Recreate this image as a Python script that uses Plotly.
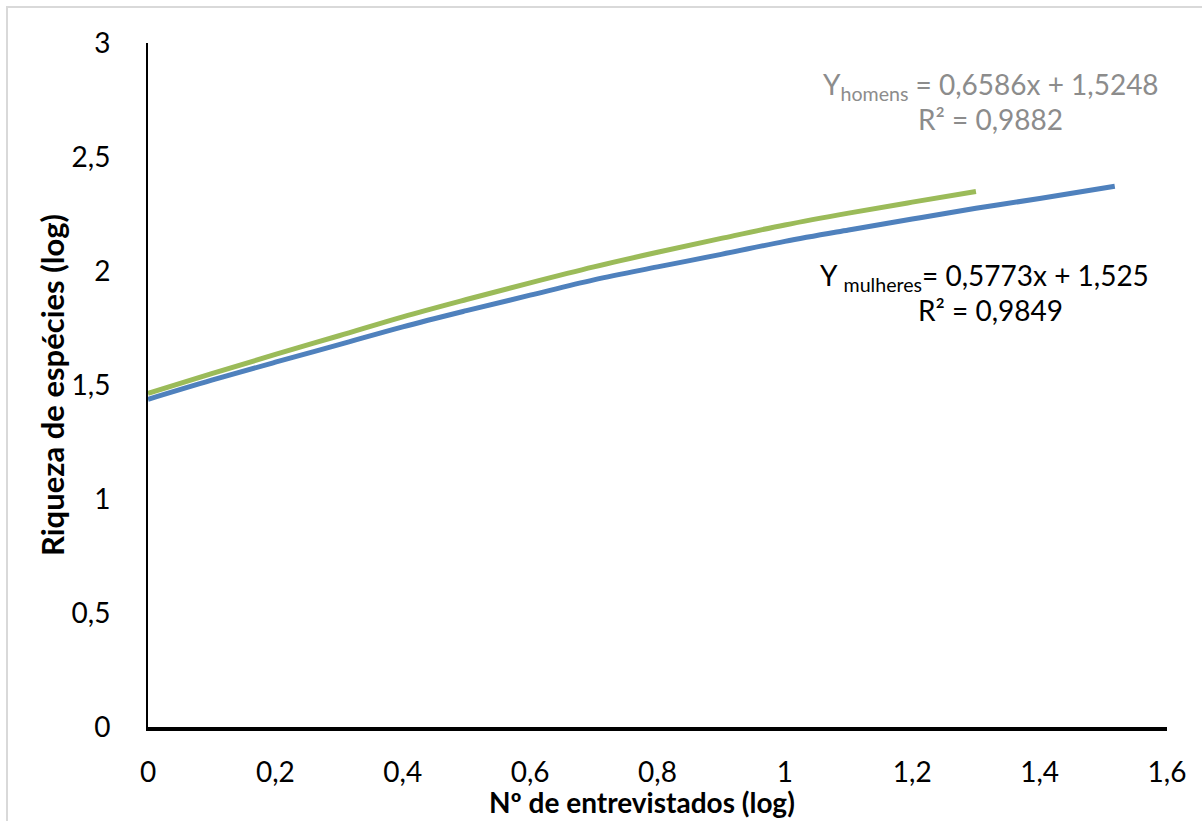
import plotly.graph_objects as go

# Data
x_homens = [0.0, 0.1, 0.2, 0.3, 0.4, 0.5, 0.6, 0.7, 0.8, 0.9, 1.0, 1.1, 1.2, 1.3]
y_homens = [1.463, 1.550, 1.634, 1.716, 1.799, 1.875, 1.948, 2.018, 2.082, 2.143, 2.202, 2.254, 2.302, 2.349]

x_mulheres = [0.0, 0.1, 0.2, 0.3, 0.4, 0.5, 0.6, 0.7, 0.8, 0.9, 1.0, 1.1, 1.2, 1.3, 1.4, 1.518]
y_mulheres = [1.437, 1.521, 1.600, 1.677, 1.755, 1.826, 1.894, 1.961, 2.018, 2.073, 2.130, 2.180, 2.228, 2.275, 2.318, 2.372]

x_ticks = [0, 0.2, 0.4, 0.6, 0.8, 1.0, 1.2, 1.4, 1.6]
x_tick_labels = ["0", "0,2", "0,4", "0,6", "0,8", "1", "1,2", "1,4", "1,6"]
y_ticks = [0, 0.5, 1.0, 1.5, 2.0, 2.5, 3.0]
y_tick_labels = ["0", "0,5", "1", "1,5", "2", "2,5", "3"]

FONT = "Lato, 'Open Sans', sans-serif"

W, H = 1202, 821
L, R, T, B = 148, 35, 43, 94
pw, ph = W - L - R, H - T - B

def px(xp):
    return (xp - L) / pw

def py(yp):
    return (H - B - yp) / ph

fig = go.Figure()
fig.add_trace(go.Scatter(x=x_mulheres, y=y_mulheres, mode="lines",
                         line=dict(color="#4F81BD", width=5, shape="spline"),
                         name="mulheres", showlegend=False))
fig.add_trace(go.Scatter(x=x_homens, y=y_homens, mode="lines",
                         line=dict(color="#9BBB59", width=5, shape="spline"),
                         name="homens", showlegend=False))

def ann(x, y, text, color, size=28, **kw):
    d = dict(xref="paper", yref="paper", x=px(x), y=py(y),
             xanchor="center", yanchor="middle", text=text,
             showarrow=False, font=dict(size=size, color=color, family=FONT))
    d.update(kw)
    return d

fig.update_layout(
    width=W, height=H,
    margin=dict(l=L, r=R, t=T, b=B),
    paper_bgcolor="white", plot_bgcolor="white",
    font=dict(family=FONT, size=28, color="black"),
    xaxis=dict(range=[0, 1.6], tickvals=x_ticks, ticktext=x_tick_labels,
               showgrid=False, zeroline=False, showline=True, linewidth=4,
               linecolor="black", ticks="", ticklabelstandoff=17,
               tickfont=dict(size=28, family=FONT)),
    yaxis=dict(range=[0, 3], tickvals=y_ticks, ticktext=y_tick_labels,
               showgrid=False, zeroline=False, showline=True, linewidth=2,
               linecolor="black", ticks="", ticklabelstandoff=30,
               tickfont=dict(size=28, family=FONT)),
    shapes=[dict(type="rect", xref="paper", yref="paper",
                 x0=px(7), x1=px(W + 20), y0=py(H + 20), y1=py(7),
                 line=dict(color="#D9D9D9", width=2), fillcolor="rgba(0,0,0,0)",
                 layer="below")],
    annotations=[
        ann(642, 802, "<b>Nº de entrevistados (log)</b>", "black", size=28),
        ann(52, 385, "<b>Riqueza de espécies (log)</b>", "black", size=31, textangle=-90),
        ann(991, 86, "Y<sub>homens</sub> = 0,6586x + 1,5248", "#8C8C8C"),
        ann(990, 119, "R² = 0,9882", "#8C8C8C"),
        ann(984, 277, "Y <sub>mulheres</sub>= 0,5773x + 1,525", "black"),
        ann(990, 310, "R² = 0,9849", "black"),
    ],
)

fig.write_html("out.html")
